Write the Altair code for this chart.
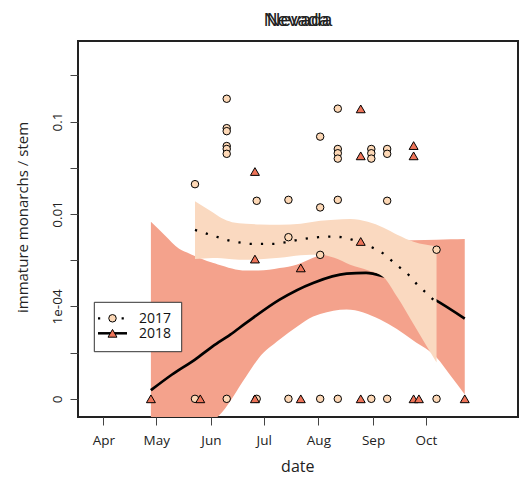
import json
import altair as alt
import pandas as pd

# ---------------- text ----------------
title_text = ["Nevada"]
x_title = "date"
y_title = "immature monarchs / stem"
legend_labels = ["2017", "2018"]

# ---------------- axes ----------------
month_days = [91, 121, 152, 182, 213, 244, 274]
month_labels = ["Apr", "May", "Jun", "Jul", "Aug", "Sep", "Oct"]
y_tick_values = [0, 1e-06, 0.0001, 0.001479, 0.01, 0.04402, 0.14788, 0.41177]
y_tick_labels = ["0", "", "1e-04", "", "0.01", "", "0.1", ""]

# ---------------- observations ----------------
obs17_date = ["2017-05-23", "2017-05-23",
              "2017-06-10", "2017-06-10", "2017-06-10", "2017-06-10", "2017-06-10", "2017-06-10", "2017-06-10",
              "2017-06-27", "2017-06-27",
              "2017-07-15", "2017-07-15", "2017-07-15",
              "2017-08-02", "2017-08-02", "2017-08-02", "2017-08-02",
              "2017-08-12", "2017-08-12", "2017-08-12", "2017-08-12", "2017-08-12", "2017-08-12",
              "2017-08-31", "2017-08-31", "2017-08-31", "2017-08-31",
              "2017-09-09", "2017-09-09", "2017-09-09", "2017-09-09",
              "2017-10-07", "2017-10-07"]
obs17_value = [0.027, 0,
               0.25, 0.126, 0.117, 0.080, 0.074, 0.065, 0,
               0.0158, 0,
               0.0163, 0.0041, 0,
               0.102, 0.0126, 0.0019, 0,
               0.20, 0.074, 0.066, 0.057, 0.0163, 0,
               0.074, 0.066, 0.057, 0,
               0.074, 0.065, 0.0158, 0,
               0.0024, 0]

obs18_date = ["2018-04-28",
              "2018-05-26",
              "2018-06-26", "2018-06-26", "2018-06-26",
              "2018-07-22", "2018-07-22",
              "2018-08-25", "2018-08-25", "2018-08-25", "2018-08-25",
              "2018-09-24", "2018-09-24", "2018-09-24",
              "2018-09-27",
              "2018-10-23"]
obs18_value = [0,
               0,
               0.0395, 0.00156, 0,
               0.00101, 0,
               0.199, 0.0615, 0.00343, 0,
               0.081, 0.0615, 0,
               0,
               0]

# ---------------- fitted curves (day of year) ----------------
line17_doy = [143, 150, 156, 162, 168, 175, 181, 187, 194, 200, 207, 213, 220, 226, 232, 238,
              244, 250, 255, 260, 265, 269, 274, 280]
line17_val = [0.0055, 0.0047, 0.0041, 0.0036, 0.0033, 0.0031, 0.0031, 0.0031, 0.0033, 0.0036,
              0.0039, 0.0041, 0.0042, 0.0041, 0.0037, 0.0031, 0.0026, 0.0020, 0.0014, 0.00097,
              0.00065, 0.00041, 0.00025, 0.00013]

band17_doy = [143, 148, 153, 158, 164, 172, 180, 191, 203, 214, 222, 231, 241, 250, 258, 267, 280]
band17_hi = [0.0155, 0.0129, 0.0106, 0.0086, 0.0074, 0.0070, 0.0068, 0.0067, 0.0070, 0.0078,
             0.0081, 0.0083, 0.0075, 0.0060, 0.0045, 0.0034, 0.0028]
band17_lo = [0.00156, 0.00161, 0.00164, 0.00163, 0.00155, 0.00151, 0.00155, 0.00166, 0.00187,
             0.00191, 0.00166, 0.00119, 0.00090, 0.00062, 0.00018, 0.000024, 0.0000002]

line18_doy = [118, 130, 143, 153, 163, 172, 191, 210, 229, 240, 250, 265, 279, 296]
line18_val = [1.4e-11, 1.4e-8, 3.4e-7, 2.3e-6, 8.9e-6, 2.7e-5, 0.00016, 0.00045, 0.00075,
              0.00078, 0.00065, 0.00036, 0.00016, 0.000039]

band18_doy = [118, 126, 134, 140, 153, 156, 172, 179, 191, 201, 210, 214, 229, 248, 267, 280, 288, 296]
band18_hi = [0.0075, 0.0044, 0.0025, 0.0020, 0.0013, 0.0012, 0.00088, 0.00088, 0.0010, 0.0012,
             0.00166, 0.00187, 0.0026, 0.0033, 0.0036, 0.0037, 0.00375, 0.0038]
band18_lo = [-6e-6, -2.4e-6, -9.2e-7, -4.2e-7, -6.5e-9, -1.7e-9, 7.8e-9, 4.0e-7, 5.2e-6, 1.94e-5,
             4.6e-5, 5.6e-5, 7.9e-5, 3.6e-5, 4.6e-6, 4.7e-7, 1.0e-8, 1.4e-13]

# ---------------- styles ----------------
PEACH_BAND = "#FAD9C0"
PEACH_PT = "#FDD8B6"
RED_BAND = "#F4A28C"
RED_PT = "#EE7459"
FONT = "Open Sans"

# ---------------- tables ----------------
obs17 = pd.DataFrame({"date": pd.to_datetime(obs17_date), "value": obs17_value})
obs17["doy"] = obs17["date"].dt.dayofyear
obs17 = obs17[["doy", "value"]]
obs18 = pd.DataFrame({"date": pd.to_datetime(obs18_date), "value": obs18_value})
obs18["doy"] = obs18["date"].dt.dayofyear
obs18 = obs18[["doy", "value"]]
l17 = pd.DataFrame({"doy": line17_doy, "value": line17_val})
b17 = pd.DataFrame({"doy": band17_doy, "hi": band17_hi, "lo": band17_lo})
l18 = pd.DataFrame({"doy": line18_doy, "value": line18_val})
b18 = pd.DataFrame({"doy": band18_doy, "hi": band18_hi, "lo": band18_lo})

x_label_expr = f"{json.dumps(month_labels)}[indexof({json.dumps(month_days)}, datum.value)]"
y_label_expr = f"{json.dumps(y_tick_labels)}[indexof({json.dumps(y_tick_values)}, datum.value)]"

x_scale = alt.Scale(domain=[76.65, 326.2], nice=False, zero=False)
y_scale = alt.Scale(type="pow", exponent=0.150515, domain=[-2.03e-9, 0.805], nice=False, zero=False)

x_axis = alt.Axis(values=month_days, labelExpr=x_label_expr, grid=False, domain=False,
                  tickSize=8, tickColor="#444", labelFontSize=13.5, labelColor="#222",
                  labelPadding=8, labelFont=FONT, titleFont=FONT, titleFontSize=16,
                  titleFontWeight="normal", titleColor="#222", titleX=219.3, titleY=54,
                  titleBaseline="alphabetic", titleAlign="center")
y_axis = alt.Axis(values=y_tick_values, labelExpr=y_label_expr, grid=False, domain=False,
                  tickSize=8, tickColor="#444", labelFontSize=13.5, labelColor="#222",
                  labelAngle=270, labelAlign="center", labelBaseline="bottom",
                  labelPadding=6, labelFont=FONT, labelOverlap=False, titleFont=FONT,
                  titleFontSize=15, titleFontWeight="normal", titleColor="#222",
                  titleAngle=270, titleX=-56, titleY=176, titleAlign="center",
                  titleBaseline="middle")


def X(field="doy"):
    return alt.X(f"{field}:Q", scale=x_scale, axis=x_axis, title=x_title)


def Y(field="value"):
    return alt.Y(f"{field}:Q", scale=y_scale, axis=y_axis, title=y_title)


band18_layer = alt.Chart(b18).mark_area(color=RED_BAND, clip=True, interpolate="monotone").encode(
    x=X(), y=Y("hi"), y2=alt.Y2("lo:Q"))
line18_layer = alt.Chart(l18).mark_line(color="black", strokeWidth=2.7, interpolate="monotone",
                                        clip=True).encode(x=X(), y=Y())
band17_layer = alt.Chart(b17).mark_area(color=PEACH_BAND, clip=True, interpolate="monotone").encode(
    x=X(), y=Y("hi"), y2=alt.Y2("lo:Q"))
line17_layer = alt.Chart(l17).mark_line(color="black", strokeWidth=2.3, strokeDash=[2.2, 9.1],
                                        interpolate="monotone", clip=True).encode(x=X(), y=Y())
pts17 = alt.Chart(obs17).mark_point(shape="circle", filled=True, fill=PEACH_PT, stroke="black",
                                    strokeWidth=1, size=56, opacity=1).encode(x=X(), y=Y())
pts18 = alt.Chart(obs18).mark_point(shape="triangle-up", filled=True, fill=RED_PT, stroke="black",
                                    strokeWidth=1, size=80, opacity=1).encode(x=X(), y=Y())

# legend (drawn by hand, as in the original figure)
leg17 = pd.DataFrame({"label": [legend_labels[0]]})
leg18 = pd.DataFrame({"label": [legend_labels[1]]})
leg_box = alt.Chart(leg17).mark_rect(fill="white", stroke="#333", strokeWidth=1).encode(
    x=alt.value(16.3), x2=alt.value(103.7), y=alt.value(261.3), y2=alt.value(310.7))
leg_line17 = alt.Chart(leg17).mark_rule(color="black", strokeWidth=2.3, strokeDash=[2.2, 9.6]).encode(
    x=alt.value(20), x2=alt.value(46), y=alt.value(277.3))
leg_line18 = alt.Chart(leg18).mark_rule(color="black", strokeWidth=2.5).encode(
    x=alt.value(20), x2=alt.value(49), y=alt.value(292.3))
leg_pt17 = alt.Chart(leg17).mark_point(shape="circle", filled=True, fill=PEACH_PT, stroke="black",
                                       strokeWidth=1, size=56, opacity=1).encode(
    x=alt.value(34.5), y=alt.value(277.3))
leg_pt18 = alt.Chart(leg18).mark_point(shape="triangle-up", filled=True, fill=RED_PT, stroke="black",
                                       strokeWidth=1, size=80, opacity=1).encode(
    x=alt.value(34.5), y=alt.value(292.3))
leg_txt17 = alt.Chart(leg17).mark_text(align="left", baseline="middle", font=FONT, fontSize=14,
                                       color="#111").encode(
    x=alt.value(61), y=alt.value(277.8), text="label:N")
leg_txt18 = alt.Chart(leg18).mark_text(align="left", baseline="middle", font=FONT, fontSize=14,
                                       color="#111").encode(
    x=alt.value(61), y=alt.value(292.8), text="label:N")

title_df = pd.DataFrame({"t": title_text})
title_a = alt.Chart(title_df).mark_text(align="center", baseline="middle", font="Liberation Sans",
                                        fontSize=19, color="#222").encode(
    x=alt.value(218.5), y=alt.value(-21), text="t:N")
title_b = alt.Chart(title_df).mark_text(align="center", baseline="middle", font="Liberation Sans",
                                        fontSize=19, color="#222").encode(
    x=alt.value(221.5), y=alt.value(-21), text="t:N")

chart = alt.layer(
    band18_layer, line18_layer, band17_layer, line17_layer, pts17, pts18,
    leg_box, leg_line17, leg_line18, leg_pt17, leg_pt18, leg_txt17, leg_txt18,
    title_a, title_b,
).properties(
    width=440, height=376,
    padding={"left": 78, "top": 41, "right": 1, "bottom": 60},
    autosize="none",
    background="white",
).configure_view(stroke="#222", strokeWidth=2)

chart.save("out.html", embed_options={"renderer": "svg", "actions": False})
